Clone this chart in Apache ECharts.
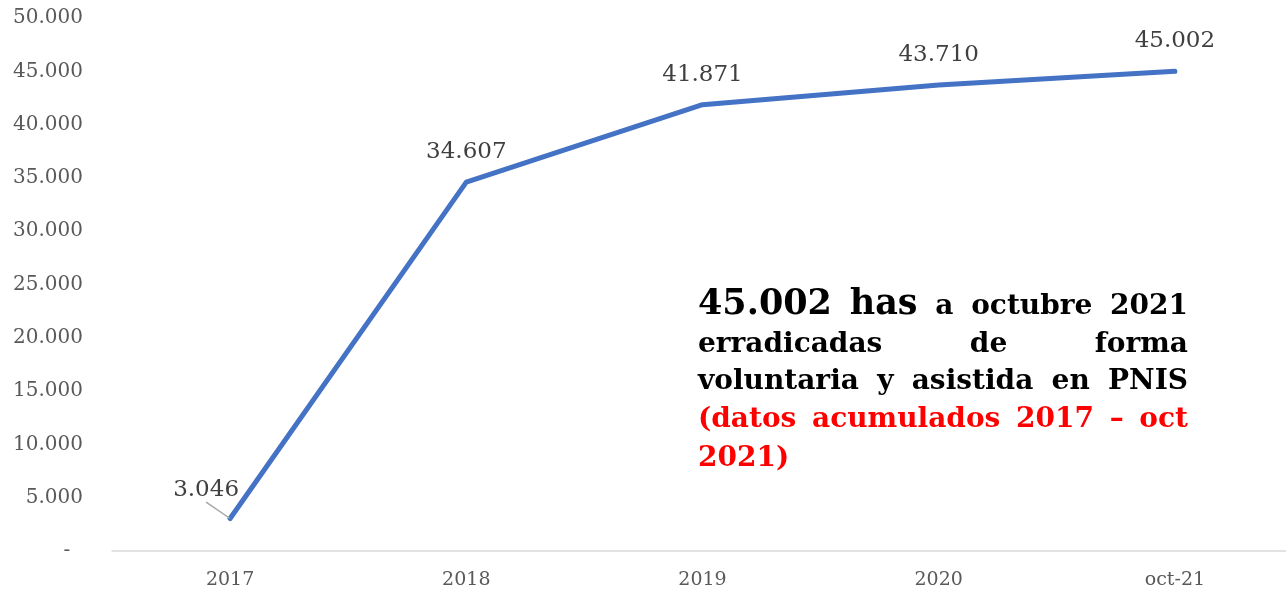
<!DOCTYPE html>
<html><head><meta charset="utf-8">
<script src="https://cdn.jsdelivr.net/npm/echarts@6/dist/echarts.min.js"></script>
<style>html,body{margin:0;padding:0;background:#fff}#c{width:1286px;height:594px}</style>
</head><body><div id="c"></div>
<script>
var categories = ['2017', '2018', '2019', '2020', 'oct-21'];
var hectares = [3046, 34607, 41871, 43710, 45002];
var yTicks = [0, 5000, 10000, 15000, 20000, 25000, 30000, 35000, 40000, 45000, 50000];

var SERIF = '"DejaVu Serif", "Liberation Serif", serif';
function fmt(v) {
  if (v === 0) return '-  ';
  return String(v).replace(/\B(?=(\d{3})+(?!\d))/g, '.');
}

var chart = echarts.init(document.getElementById('c'));

// justified annotation text
var ctx = document.createElement('canvas').getContext('2d');
function measure(t, font) { ctx.font = font; return ctx.measureText(t).width; }
var X0 = 698, X1 = 1188;
var graphics = [];
function line(words, baseline, justify) {
  var total = 0;
  words.forEach(function (w) { w.font = 'bold ' + w.size + 'px ' + SERIF; w.w = measure(w.t, w.font); total += w.w; });
  var gap = justify && words.length > 1 ? (X1 - X0 - total) / (words.length - 1) : 8;
  var x = X0;
  words.forEach(function (w) {
    graphics.push({
      type: 'text',
      style: { text: w.t, x: x, y: baseline - 0.35 * w.size, font: w.font, fill: w.c || '#000',
               textAlign: 'left', textVerticalAlign: 'middle' }
    });
    x += w.w + gap;
  });
}
function W(t, size, c) { return { t: t, size: size, c: c }; }
var red = '#ff0000';
var S = 28, B = 35;
line([W('45.002', B), W('has', B), W('a', S), W('octubre', S), W('2021', S)], 317, true);
line([W('erradicadas', S), W('de', S), W('forma', S)], 355, true);
line([W('voluntaria', S), W('y', S), W('asistida', S), W('en', S), W('PNIS', S)], 392, true);
line([W('(datos', S, red), W('acumulados', S, red), W('2017', S, red), W('–', S, red), W('oct', S, red)], 430, true);
line([W('2021)', S, red)], 469, false);

var data = hectares.map(function (v, i) {
  if (i === 0) return { value: v, labelLine: { show: true } };
  return { value: v, labelLine: { show: false } };
});

chart.setOption({
  animation: false,
  grid: { left: 112, top: 18, width: 1181, bottom: 43, outerBoundsMode: 'none', containLabel: false },
  xAxis: {
    type: 'category', data: categories, boundaryGap: true,
    axisTick: { show: false },
    axisLine: { lineStyle: { color: '#d9d9d9', width: 1.5 } },
    axisLabel: { color: '#595959', fontFamily: SERIF, fontSize: 19, margin: 20 }
  },
  yAxis: {
    type: 'value', min: 0, max: 50000, interval: 5000,
    axisLine: { show: false }, axisTick: { show: false }, splitLine: { show: false },
    axisLabel: { color: '#595959', fontFamily: SERIF, fontSize: 20, margin: 29, formatter: fmt }
  },
  series: [{
    type: 'line', data: data, symbol: 'circle', symbolSize: 1, showSymbol: true,
    itemStyle: { color: 'rgba(0,0,0,0)', borderWidth: 0 },
    lineStyle: { color: '#4472c4', width: 5, cap: 'round', join: 'round' },
    label: { show: true, opacity: 1, position: 'top', distance: 18, color: '#404040', fontFamily: SERIF, fontSize: 23, formatter: function (p) { return fmt(p.value); } },
    labelLine: { show: true, lineStyle: { color: '#a6a6a6', width: 1.5 } },
    labelLayout: function (p) {
      if (p.dataIndex === 0) return { dx: -24, dy: 2 };
      return {};
    }
  }],
  graphic: graphics
});
</script></body></html>
